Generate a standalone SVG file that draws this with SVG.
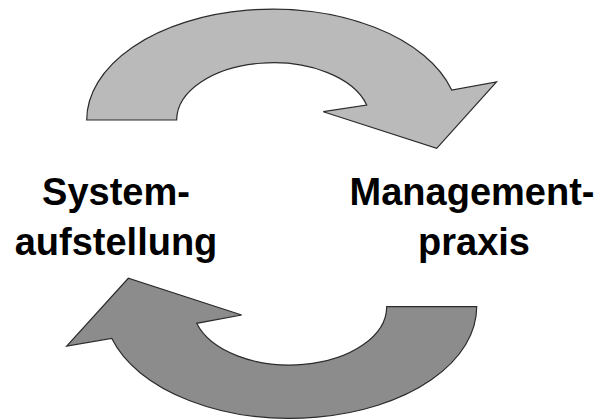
<svg xmlns="http://www.w3.org/2000/svg" width="604" height="420" viewBox="0 0 604 420">
<style>
.arrow{stroke:#2b2b2b;stroke-width:1.2;stroke-linejoin:miter}
.top{fill:#bababa}
.bottom{fill:#8c8c8c}
.label{font-family:"Liberation Sans",Arial,sans-serif;font-weight:bold;font-size:38px;fill:#000;text-anchor:middle}
</style>
<rect width="604" height="420" fill="#ffffff"/>
<g id="connectors">
<path id="arrow-top" class="arrow top" d="M86.7,120 A186,111 0 0 1 451.7,90 L496.5,82 L436.7,148.3 L323.3,111.7 L366.7,105 A96.7,57.3 0 0 0 176.7,120 Z"/>
<path id="arrow-bottom" class="arrow bottom" d="M476.7,306.7 A186.3,111.6 0 0 1 111.7,338.3 L66.7,346 L128.3,278.3 L241.7,315 L196.7,323.3 A97,58.3 0 0 0 386.7,306.7 Z"/>
</g>
<g id="node-systemaufstellung">
<text class="label" x="116" y="205">System-</text>
<text class="label" x="116" y="255">aufstellung</text>
</g>
<g id="node-managementpraxis">
<text class="label" x="472" y="205">Management-</text>
<text class="label" x="474" y="255">praxis</text>
</g>
</svg>
